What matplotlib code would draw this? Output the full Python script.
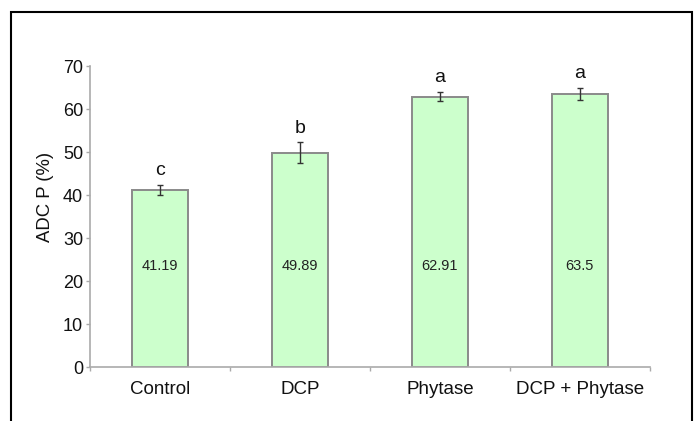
import matplotlib.pyplot as plt
from matplotlib.patches import Rectangle
import numpy as np

plt.rcParams['font.family'] = ['Liberation Sans', 'DejaVu Sans']

# Apparent digestibility of phosphorus per diet
treatments = ['Control', 'DCP', 'Phytase', 'DCP + Phytase']
adc_p = [41.19, 49.89, 62.91, 63.5]
adc_err = [1.2, 2.4, 1.1, 1.5]
value_labels = ['41.19', '49.89', '62.91', '63.5']
groups = ['c', 'b', 'a', 'a']

fig = plt.figure(figsize=(6.98, 4.21), dpi=100)
ax = fig.add_axes([0.129, 0.128, 0.802, 0.715])

x = np.arange(len(treatments))
ax.bar(x, adc_p, width=0.4, color='#ccffcc', edgecolor='#8a8a8a', linewidth=1.4, zorder=2)
ax.errorbar(x, adc_p, yerr=adc_err, fmt='none', ecolor='#333333',
            elinewidth=1.0, capsize=2.2, capthick=1.0, zorder=3)

for xi, v, lab in zip(x, adc_p, value_labels):
    ax.text(xi, 23.5, lab, ha='center', va='center', fontsize=10.5, color='#222222')

for xi, v, e, g in zip(x, adc_p, adc_err, groups):
    ax.annotate(g, (xi, v + e), xytext=(0, 4), textcoords='offset points',
                ha='center', va='bottom', fontsize=14, color='#111111')

ax.set_xlim(-0.5, len(treatments) - 0.5)
ax.set_ylim(0, 70)
ax.set_yticks(range(0, 71, 10))
ax.set_xticks(x)
ax.set_xticklabels(treatments, fontsize=13.5, color='#111111')
ax.set_xticks(np.arange(len(treatments) + 1) - 0.5, minor=True)
ax.tick_params(axis='x', which='major', length=0, pad=10)
ax.tick_params(axis='x', which='minor', length=3, color='#aaaaaa', width=1)
ax.tick_params(axis='y', length=3, color='#aaaaaa', width=1, labelsize=13,
               labelcolor='#111111', pad=2)

for s in ['top', 'right']:
    ax.spines[s].set_visible(False)
for s in ['left', 'bottom']:
    ax.spines[s].set_color('#aaaaaa')
    ax.spines[s].set_linewidth(1.2)

fig.text(45 / 698, 1 - 197 / 421, 'ADC P (%)', rotation=90, ha='center',
         va='center', fontsize=13.3, color='#111111')

# outer frame, open at the bottom edge
fig.patches.append(Rectangle((11 / 698, -0.1), 681 / 698, 1.1 - 12 / 421,
                             transform=fig.transFigure, fill=False,
                             edgecolor='black', linewidth=1.5))

fig.savefig('out.png', dpi=100)
